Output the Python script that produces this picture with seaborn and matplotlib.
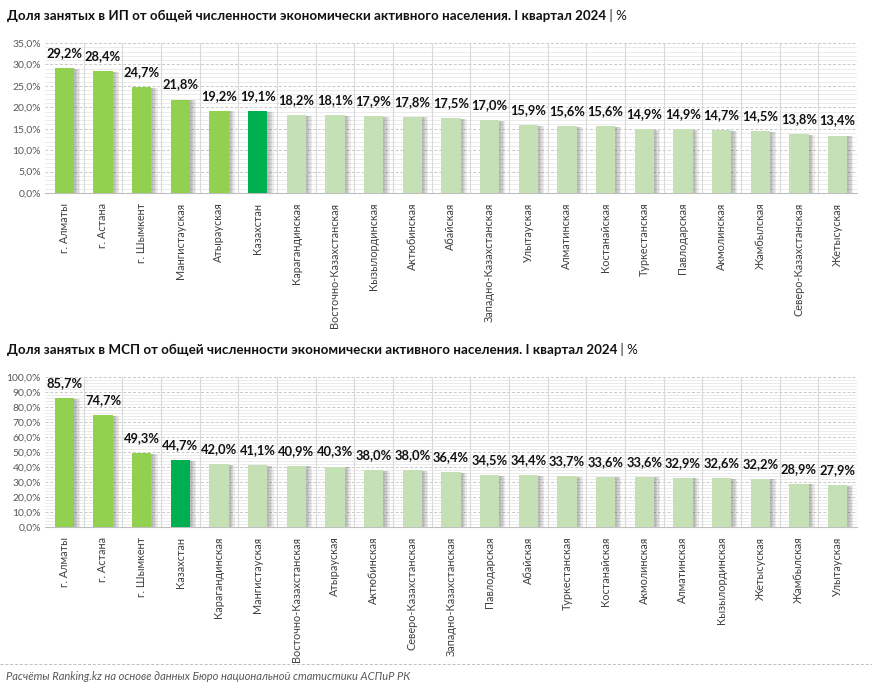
import numpy as np
import matplotlib
matplotlib.use("Agg")
import matplotlib.pyplot as plt
import matplotlib.patheffects as pe
from matplotlib.ticker import MultipleLocator, FuncFormatter
import pandas as pd
import seaborn as sns

# ИП chart
ip_regions = ["г. Алматы", "г. Астана", "г. Шымкент", "Мангистауская", "Атырауская",
              "Казахстан", "Карагандинская", "Восточно-Казахстанская", "Кызылординская",
              "Актюбинская", "Абайская", "Западно-Казахстанская", "Улытауская",
              "Алматинская", "Костанайская", "Туркестанская", "Павлодарская",
              "Акмолинская", "Жамбылская", "Северо-Казахстанская", "Жетысуская"]
ip_values = [29.2, 28.4, 24.7, 21.8, 19.2, 19.1, 18.2, 18.1, 17.9, 17.8, 17.5, 17.0,
             15.9, 15.6, 15.6, 14.9, 14.9, 14.7, 14.5, 13.8, 13.4]

# МСП chart
msp_regions = ["г. Алматы", "г. Астана", "г. Шымкент", "Казахстан", "Карагандинская",
               "Мангистауская", "Восточно-Казахстанская", "Атырауская", "Актюбинская",
               "Северо-Казахстанская", "Западно-Казахстанская", "Павлодарская", "Абайская",
               "Туркестанская", "Костанайская", "Акмолинская", "Алматинская",
               "Кызылординская", "Жетысуская", "Жамбылская", "Улытауская"]
msp_values = [85.7, 74.7, 49.3, 44.7, 42.0, 41.1, 40.9, 40.3, 38.0, 38.0, 36.4, 34.5,
              34.4, 33.7, 33.6, 33.6, 32.9, 32.6, 32.2, 28.9, 27.9]

GREEN = "#92D050"
KZ = "#00B050"
LIGHT = "#C5E0B4"

ip_colors = [GREEN] * 5 + [KZ] + [LIGHT] * 15
msp_colors = [GREEN] * 3 + [KZ] + [LIGHT] * 17

sns.set_style("white")
plt.rcParams['font.family'] = ['Lato', 'DejaVu Sans']

fig = plt.figure(figsize=(8.72, 6.9), dpi=100)

# soft shadow to the right of each bar
shadow = [pe.SimplePatchShadow(offset=(o, -0.5), shadow_rgbFace="#000000", alpha=0.07)
          for o in (4.5, 3.5, 2.5, 1.5)] + [pe.Normal()]


def draw(ax, regions, values, colors, ymax, major, minor, title):
    df = pd.DataFrame({"region": regions, "value": values})
    sns.barplot(data=df, x="region", y="value", hue="region", palette=colors,
                legend=False, width=0.5, ax=ax, saturation=1, edgecolor="none")
    for p in ax.patches:
        p.set_path_effects(shadow)
        p.set_zorder(3)
    for i, v in enumerate(values):
        ax.annotate(f"{v:.1f}%".replace(".", ","), (i, v), xytext=(0, 6.5),
                    textcoords="offset points", ha="center", va="bottom",
                    fontsize=9.3, fontweight="bold", color="#111111")
    ax.set_ylim(0, ymax)
    ax.set_xlim(-0.5, len(values) - 0.5)
    ax.yaxis.set_major_locator(MultipleLocator(major))
    ax.yaxis.set_minor_locator(MultipleLocator(minor))
    ax.yaxis.set_major_formatter(FuncFormatter(lambda y, _: f"{y:.1f}%".replace(".", ",")))
    ax.grid(which="major", axis="y", color="#C8C8C8", linestyle=(0, (3, 2)), linewidth=0.7)
    ax.grid(which="minor", axis="y", color="#E8E8E8", linestyle="-", linewidth=0.6)
    for x in np.arange(0.5, len(values) - 0.5, 1):
        ax.axvline(x, color="#D9D9D9", linewidth=0.8, zorder=1)
    ax.set_axisbelow(True)
    for s in ["top", "right", "left"]:
        ax.spines[s].set_visible(False)
    ax.spines["bottom"].set_color("#BFBFBF")
    ax.spines["bottom"].set_zorder(0)
    ax.set_xlabel("")
    ax.set_ylabel("")
    ax.tick_params(axis="x", labelrotation=90, labelsize=7.8, colors="#404040", length=0, pad=7)
    ax.tick_params(axis="y", which="both", labelsize=7.5, colors="#595959", length=0, pad=3)
    t = ax.text(-0.047, 1.14, title, transform=ax.transAxes, fontsize=9.6,
                fontweight="bold", color="#111111", ha="left", va="bottom")
    ax.annotate(" | %", xy=(1, 0), xycoords=t, fontsize=9.6, color="#111111",
                ha="left", va="bottom")


ax1 = fig.add_axes([0.0516, 0.7203, 0.931, 0.2174])
draw(ax1, ip_regions, ip_values, ip_colors, 35, 5, 1,
     "Доля занятых в ИП от общей численности экономически активного населения. I квартал 2024")

ax2 = fig.add_axes([0.0516, 0.2362, 0.931, 0.2174])
draw(ax2, msp_regions, msp_values, msp_colors, 100, 10, 2,
     "Доля занятых в МСП от общей численности экономически активного населения. I квартал 2024")

fig.add_artist(plt.Line2D([0.0, 1.0], [1 - 664 / 690, 1 - 664 / 690], color="#BFBFBF",
                          linestyle=(0, (3, 2)), linewidth=0.7, transform=fig.transFigure))
fig.text(0.007, 1 - 677 / 690, "Расчёты Ranking.kz на основе данных Бюро национальной статистики АСПиР РК",
         fontsize=8, style="italic", color="#595959", ha="left", va="center")

fig.savefig("out.png", dpi=100, facecolor="white")
